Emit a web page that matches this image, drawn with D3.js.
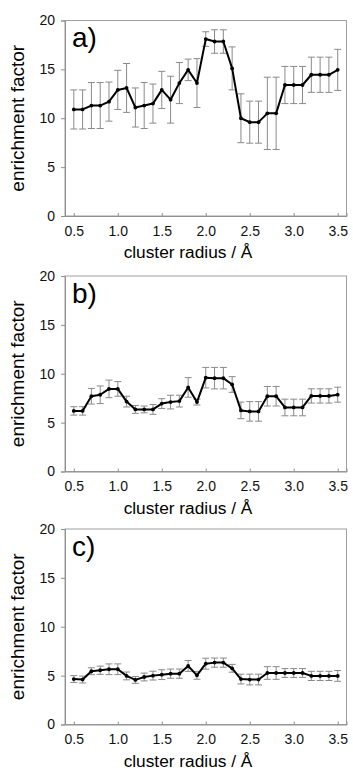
<!DOCTYPE html>
<html><head><meta charset="utf-8">
<script src="https://cdn.jsdelivr.net/npm/d3@7"></script>
<style>body{margin:0;background:#fff}svg{display:block;font-family:Arial,"Liberation Sans",sans-serif}</style>
</head><body>
<svg id="c" width="353" height="770"></svg>
<script>
const radius = [0.5,0.6,0.7,0.8,0.9,1.0,1.1,1.2,1.3,1.4,1.5,1.6,1.7,1.8,1.9,2.0,2.1,2.2,2.3,2.4,2.5,2.6,2.7,2.8,2.9,3.0,3.1,3.2,3.3,3.4,3.5];
const panelLabels = ["a)","b)","c)"];
const yTicks = [0,5,10,15,20];
const xTicks = [0.5,1.0,1.5,2.0,2.5,3.0,3.5];
const xTitle = "cluster radius / Å";
const yTitle = "enrichment factor";

const valuesA = [10.9,10.9,11.3,11.3,11.7,12.9,13.1,11.1,11.3,11.5,12.9,11.9,13.6,14.95,13.6,18.1,17.85,17.85,15.1,10.0,9.6,9.6,10.5,10.5,13.4,13.4,13.4,14.45,14.45,14.45,14.95];
const errA    = [2.0,2.0,2.35,2.35,2.0,2.0,2.5,2.0,2.35,2.0,1.9,2.4,2.1,1.1,2.5,0.75,1.2,1.2,2.2,2.5,2.15,2.15,3.7,3.7,1.9,1.9,1.9,1.8,1.8,1.8,2.1];
const valuesB = [6.2,6.2,7.7,7.85,8.45,8.45,7.15,6.35,6.35,6.35,6.95,7.1,7.2,8.6,7.1,9.6,9.55,9.55,8.9,6.25,6.15,6.15,7.7,7.7,6.55,6.55,6.55,7.73,7.73,7.73,7.86];
const errB    = [0.43,0.43,0.8,0.9,0.9,0.75,0.55,0.4,0.35,0.5,0.5,0.7,0.6,1.0,0.3,1.05,1.1,1.1,0.8,0.85,1.0,1.0,1.0,1.0,0.85,0.85,0.85,0.73,0.73,0.73,0.77];
const valuesC = [4.65,4.6,5.45,5.55,5.65,5.65,4.97,4.56,4.86,5.0,5.1,5.2,5.2,5.99,5.03,6.22,6.33,6.33,5.75,4.65,4.6,4.6,5.27,5.27,5.27,5.27,5.27,4.97,4.97,4.97,4.97];
const errC    = [0.35,0.35,0.35,0.42,0.55,0.55,0.4,0.35,0.4,0.45,0.5,0.47,0.47,0.56,0.4,0.56,0.47,0.47,0.4,0.5,0.55,0.55,0.65,0.65,0.45,0.45,0.45,0.47,0.47,0.47,0.55];

const series = [valuesA, valuesB, valuesC];
const errors = [errA, errB, errC];
const panelTops = [20.5, 276, 529];
const plotH = 195.5;
const left = 65, right = 346.5;

const svg = d3.select("#c");
const x = d3.scaleLinear().domain([0.4,3.6]).range([left,right]);

series.forEach((vals, p) => {
  const top = panelTops[p], bottom = top + plotH;
  const y = d3.scaleLinear().domain([0,20]).range([bottom, top]);
  const g = svg.append("g");
  const data = radius.map((r,i)=>({r, v: vals[i], e: errors[p][i]}));

  // frame
  g.append("rect").attr("x", left).attr("y", top).attr("width", right-left).attr("height", plotH)
    .attr("fill","none").attr("stroke","#a0a0a0").attr("stroke-width",1);

  // y axis
  const ya = g.append("g").attr("transform", `translate(${left},0)`)
    .call(d3.axisLeft(y).tickValues(yTicks).tickSize(4).tickPadding(6).tickFormat(d3.format("d")));
  ya.select(".domain").attr("stroke","#909090");
  ya.selectAll(".tick line").attr("stroke","#909090");
  ya.selectAll("text").attr("font-size","14px").attr("fill","#111").attr("font-family","Arial, 'Liberation Sans', sans-serif");

  // x axis (ticks inside)
  const xa = g.append("g").attr("transform", `translate(0,${bottom})`)
    .call(d3.axisBottom(x).tickValues(xTicks).tickSize(-3).tickPadding(10).tickFormat(d3.format(".1f")));
  xa.select(".domain").attr("stroke","#909090");
  xa.selectAll(".tick line").attr("stroke","#909090");
  xa.selectAll("text").attr("font-size","14px").attr("fill","#111").attr("font-family","Arial, 'Liberation Sans', sans-serif");

  // error bars
  const eb = g.append("g").attr("stroke","#8a8a8a").attr("stroke-width",1);
  data.forEach(d => {
    const cx = x(d.r), y1 = y(d.v + d.e), y2 = y(d.v - d.e);
    eb.append("line").attr("x1",cx).attr("x2",cx).attr("y1",y1).attr("y2",y2);
    eb.append("line").attr("x1",cx-3.5).attr("x2",cx+3.5).attr("y1",y1).attr("y2",y1);
    eb.append("line").attr("x1",cx-3.5).attr("x2",cx+3.5).attr("y1",y2).attr("y2",y2);
  });

  // line
  g.append("path").datum(data)
    .attr("d", d3.line().x(d=>x(d.r)).y(d=>y(d.v)))
    .attr("fill","none").attr("stroke","#000").attr("stroke-width",2).attr("stroke-linejoin","round");
  g.selectAll("circle.pt").data(data).enter().append("circle")
    .attr("cx", d=>x(d.r)).attr("cy", d=>y(d.v)).attr("r",1.9).attr("fill","#000");

  // panel label
  g.append("text").attr("x", 72).attr("y", top + 26.5).text(panelLabels[p])
    .attr("font-size","28px").attr("fill","#000");

  // x title
  g.append("text").attr("x", 188).attr("y", bottom + 42).attr("text-anchor","middle")
    .attr("font-size","17.3px").attr("fill","#000").text(xTitle);

  // y title
  g.append("text").attr("transform", `translate(23.5,${(top+bottom)/2}) rotate(-90)`)
    .attr("text-anchor","middle").attr("font-size","19px").attr("fill","#000").text(yTitle);
});
</script>
</body></html>
